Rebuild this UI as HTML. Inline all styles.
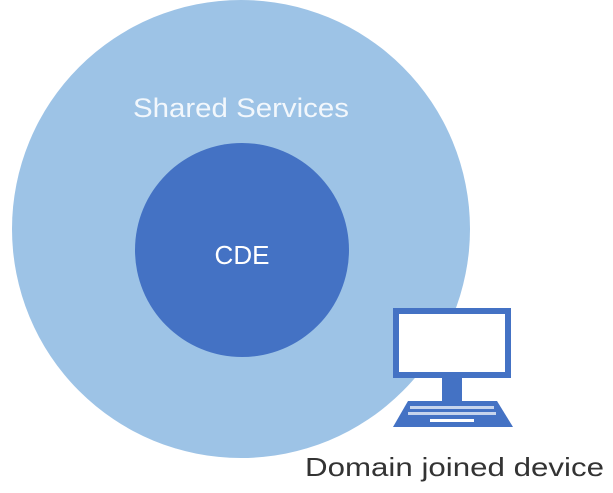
<!DOCTYPE html>
<html><head><style>
html,body{margin:0;padding:0;background:#fff;}
</style></head><body>
<svg width="613" height="493" xmlns="http://www.w3.org/2000/svg" style="display:block">
<circle cx="241" cy="229" r="229" fill="#9DC3E6"/>
<circle cx="242" cy="250" r="107" fill="#4472C4"/>
<text x="133" y="117" textLength="216" lengthAdjust="spacingAndGlyphs" font-family="Liberation Sans, sans-serif" font-size="27" fill="#F2F7FC">Shared Services</text>
<text x="242" y="264" text-anchor="middle" font-family="Liberation Sans, sans-serif" font-size="26" fill="#fff">CDE</text>
<rect x="396" y="311" width="112" height="64" fill="#fff" stroke="#4472C4" stroke-width="6"/>
<rect x="442" y="378" width="20" height="23" fill="#4472C4"/>
<polygon points="408,401 497,401 513,427 393,427" fill="#4472C4"/>
<g fill="#fff">
<rect x="410" y="406" width="84" height="3" opacity="0.7"/>
<rect x="408" y="412" width="88" height="3" opacity="0.7"/>
<rect x="430" y="419" width="44" height="3"/>
</g>
<text x="305" y="476" textLength="299" lengthAdjust="spacingAndGlyphs" font-family="Liberation Sans, sans-serif" font-size="26" fill="#333">Domain joined device</text>
</svg>
</body></html>
